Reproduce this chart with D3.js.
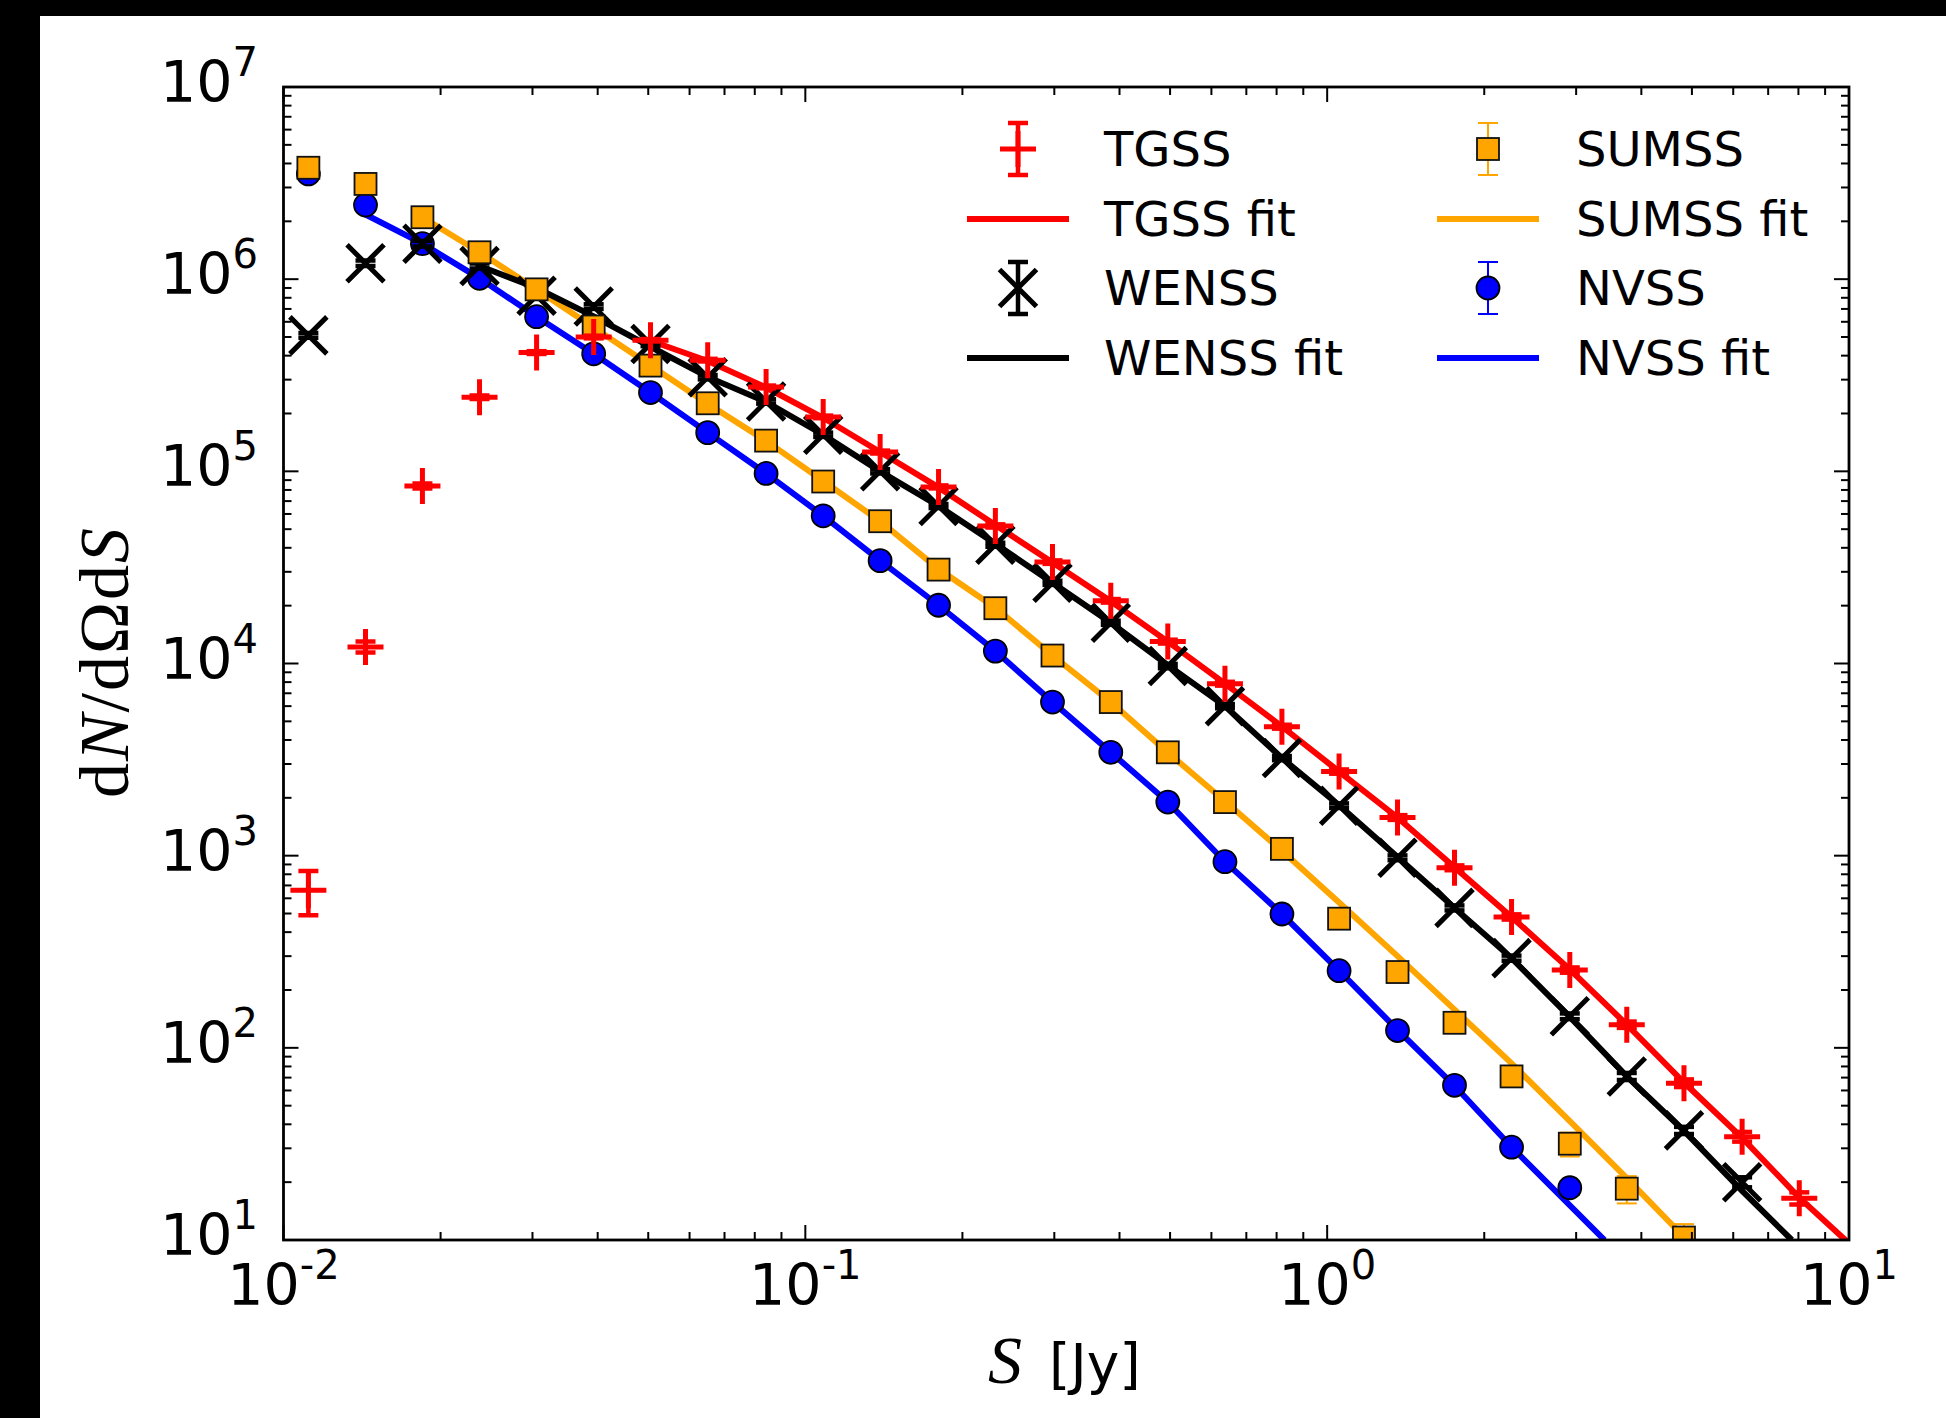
<!DOCTYPE html>
<html>
<head>
<meta charset="utf-8">
<script src="https://cdn.jsdelivr.net/npm/d3@7"></script>
<style>
  body { margin: 0; background: #fff; }
  text { font-family: "DejaVu Sans", sans-serif; }
</style>
</head>
<body>
<div id="chart"></div>
<script>
// bin centres, S [Jy]
const binS = [0.01116, 0.01436, 0.01846, 0.02375, 0.03055, 0.0393, 0.0505, 0.0650, 0.0841,
              0.1082, 0.1391, 0.180, 0.2313, 0.2976, 0.3849, 0.495, 0.637, 0.819, 1.054,
              1.364, 1.754, 2.256, 2.917, 3.751, 4.828, 6.24, 8.03];

// TGSS counts (27 bins)
const tgssVals = [661, 12200, 84000, 243000, 415000, 500000, 481000, 379000, 275000, 192000,
                  126000, 83000, 52000, 33700, 21200, 13000, 7850, 4690, 2740, 1580,
                  865, 480, 254, 132, 65.5, 34.5, 16.5];
const tgssErr = [172, 800, 2500, 5000, 7000, 8000, 7000, 6000, 4500, 3000,
                 2200, 1500, 1000, 700, 450, 300, 180, 110, 70, 45,
                 25, 15, 8, 5, 3, 2, 1.2];
const tgssFitS = [0.0505, 0.0650, 0.0841, 0.1082, 0.1391, 0.180, 0.2313, 0.2976, 0.3849, 0.495,
                  0.637, 0.819, 1.054, 1.364, 1.754, 2.256, 2.917, 3.751, 4.828, 6.24, 8.03, 10.0];
const tgssFit = [478000, 375000, 273000, 190000, 126000, 82500, 52500, 33500, 21100, 13000,
                 7850, 4700, 2740, 1580, 870, 480, 256, 132, 66, 34, 16.6, 9.6];

// WENSS counts (26 bins)
const wenssVals = [510000, 1210000, 1530000, 1170000, 820000, 720000, 460000, 309000, 231000, 155000,
                   100000, 66000, 41500, 26300, 16300, 9700, 6000, 3220, 1820, 975,
                   535, 293, 146, 71, 37.2, 20];
const wenssErr = [15000, 40000, 50000, 35000, 25000, 20000, 12000, 8000, 6000, 4000,
                  2500, 1600, 1000, 650, 400, 250, 150, 80, 50, 28,
                  16, 9, 5, 3, 1.6, 1.2];
const wenssFitS = [0.02375, 0.03055, 0.0393, 0.0505, 0.0650, 0.0841, 0.1082, 0.1391, 0.180, 0.2313,
                   0.2976, 0.3849, 0.495, 0.637, 0.819, 1.054, 1.364, 1.754, 2.256, 2.917,
                   3.751, 4.828, 6.24, 7.77];
const wenssFit = [1170000, 900000, 640000, 445000, 310000, 230000, 155000, 100000, 66000, 42000,
                  26300, 16300, 9800, 6000, 3220, 1830, 985, 535, 293, 145,
                  71, 37, 18, 10];

// SUMSS counts (25 bins)
const sumssVals = [3800000, 3130000, 2100000, 1380000, 885000, 567000, 355000, 226000, 144500, 88500,
                   55000, 30800, 19400, 11000, 6300, 3450, 1900, 1085, 470, 248,
                   135, 71, 31.7, 18.5, 10.3];
const sumssErr = [60000, 50000, 30000, 20000, 12000, 8000, 5000, 3000, 2000, 1200,
                  800, 450, 300, 170, 100, 60, 35, 22, 12, 8,
                  5, 4, 4.5, 3, 1.8];
const sumssFitS = [0.01846, 0.02375, 0.03055, 0.0393, 0.0505, 0.0650, 0.0841, 0.1082, 0.1391, 0.180,
                   0.2313, 0.2976, 0.3849, 0.495, 0.637, 0.819, 1.054, 1.364, 1.754, 2.256,
                   2.917, 3.751, 4.89];
const sumssFit = [2100000, 1380000, 885000, 560000, 355000, 225000, 144000, 89000, 55000, 31000,
                  19500, 11000, 6300, 3440, 1920, 1060, 570, 300, 158, 83,
                  41.6, 21, 10];

// NVSS counts (23 bins)
const nvssVals = [3530000, 2430000, 1530000, 1010000, 638000, 409000, 257000, 159000, 97500, 58700,
                  34300, 20100, 11600, 6300, 3450, 1900, 930, 497, 252, 123,
                  63.8, 30.4, 18.7];
const nvssErr = [50000, 40000, 25000, 15000, 9000, 6000, 4000, 2500, 1500, 900,
                 550, 320, 200, 110, 65, 40, 22, 13, 8, 4.5,
                 3, 2, 1.5];
const nvssFitS = [0.01436, 0.01846, 0.02375, 0.03055, 0.0393, 0.0505, 0.0650, 0.0841, 0.1082, 0.1391,
                  0.180, 0.2313, 0.2976, 0.3849, 0.495, 0.637, 0.819, 1.054, 1.364, 1.754,
                  2.256, 3.40];
const nvssFit = [2170000, 1530000, 1010000, 638000, 409000, 257000, 159000, 97500, 58700, 34300,
                 20100, 11600, 6300, 3450, 1900, 930, 497, 252, 124, 63.5,
                 30.5, 10];

const xTickExps = [-2, -1, 0, 1];
const yTickExps = [1, 2, 3, 4, 5, 6, 7];

const W = 1946, H = 1418;
const plot = {left: 283.5, right: 1849, top: 87, bottom: 1240};

const svg = d3.select("#chart").append("svg")
    .attr("width", W)
    .attr("height", H);

svg.append("rect").attr("width", W).attr("height", H).attr("fill", "#fff");
// black strips along the top and the left edge
svg.append("rect").attr("x", 0).attr("y", 0).attr("width", W).attr("height", 16).attr("fill", "#000");
svg.append("rect").attr("x", 0).attr("y", 0).attr("width", 40).attr("height", H).attr("fill", "#000");

const x = d3.scaleLog().domain([0.01, 10]).range([plot.left, plot.right]);
const y = d3.scaleLog().domain([10, 1e7]).range([plot.bottom, plot.top]);

svg.append("defs").append("clipPath").attr("id", "clip")
  .append("rect")
    .attr("x", plot.left).attr("y", plot.top)
    .attr("width", plot.right - plot.left)
    .attr("height", plot.bottom - plot.top);

const layer = svg.append("g").attr("clip-path", "url(#clip)");

// fit lines
const line = d3.line().x(d => x(d[0])).y(d => y(d[1]));
const fits = [
    {s: nvssFitS, v: nvssFit, color: "#0000ff"},
    {s: sumssFitS, v: sumssFit, color: "#ffa500"},
    {s: wenssFitS, v: wenssFit, color: "#000000"},
    {s: tgssFitS, v: tgssFit, color: "#ff0000"}
];
fits.forEach(f => {
    layer.append("path")
        .datum(f.s.map((s, i) => [s, f.v[i]]))
        .attr("d", line)
        .attr("fill", "none")
        .attr("stroke", f.color)
        .attr("stroke-width", 6);
});

// marker drawing helpers
function drawMarker(g, kind) {
    if (kind === "plus") {
        g.append("path").attr("d", "M-18,0H18M0,-18V18")
            .attr("stroke", "#ff0000").attr("stroke-width", 5).attr("fill", "none");
    } else if (kind === "x") {
        g.append("path").attr("d", "M-18.5,-18.5L18.5,18.5M-18.5,18.5L18.5,-18.5")
            .attr("stroke", "#000").attr("stroke-width", 5).attr("fill", "none");
    } else if (kind === "square") {
        g.append("rect").attr("x", -11).attr("y", -11).attr("width", 22).attr("height", 22)
            .attr("fill", "#ffa500").attr("stroke", "#111").attr("stroke-width", 1.8);
    } else {
        g.append("circle").attr("r", 11.5)
            .attr("fill", "#0000ff").attr("stroke", "#000").attr("stroke-width", 1.8);
    }
}

function drawErr(g, y0, y1, color, width, cap) {
    g.append("line").attr("x1", 0).attr("x2", 0).attr("y1", y0).attr("y2", y1)
        .attr("stroke", color).attr("stroke-width", width);
    [y0, y1].forEach(yy => {
        g.append("line").attr("x1", -cap).attr("x2", cap).attr("y1", yy).attr("y2", yy)
            .attr("stroke", color).attr("stroke-width", width);
    });
}

const sets = [
    {vals: nvssVals, err: nvssErr, kind: "circle", color: "#0000ff", ew: 2},
    {vals: wenssVals, err: wenssErr, kind: "x", color: "#000000", ew: 4.5},
    {vals: sumssVals, err: sumssErr, kind: "square", color: "#ffa500", ew: 2},
    {vals: tgssVals, err: tgssErr, kind: "plus", color: "#ff0000", ew: 4.5}
];
sets.forEach(set => {
    set.vals.forEach((v, i) => {
        const g = layer.append("g")
            .attr("transform", `translate(${x(binS[i])},${y(v)})`);
        const yc = y(v);
        drawErr(g, y(v - set.err[i]) - yc, y(v + set.err[i]) - yc, set.color, set.ew, 10);
        drawMarker(g, set.kind);
    });
});

// ticks (inward, all four sides)
const xt = x.ticks();
const yt = y.ticks();
const isMajor = v => Math.abs(Math.log10(v) - Math.round(Math.log10(v))) < 1e-9;
const tickG = svg.append("g").attr("stroke", "#000").attr("stroke-width", 2);
xt.forEach(v => {
    const len = isMajor(v) ? 15 : 8;
    const px = x(v);
    tickG.append("line").attr("x1", px).attr("x2", px).attr("y1", plot.bottom).attr("y2", plot.bottom - len);
    tickG.append("line").attr("x1", px).attr("x2", px).attr("y1", plot.top).attr("y2", plot.top + len);
});
yt.forEach(v => {
    const len = isMajor(v) ? 15 : 8;
    const py = y(v);
    tickG.append("line").attr("x1", plot.left).attr("x2", plot.left + len).attr("y1", py).attr("y2", py);
    tickG.append("line").attr("x1", plot.right).attr("x2", plot.right - len).attr("y1", py).attr("y2", py);
});

svg.append("rect")
    .attr("x", plot.left).attr("y", plot.top)
    .attr("width", plot.right - plot.left)
    .attr("height", plot.bottom - plot.top)
    .attr("fill", "none").attr("stroke", "#000").attr("stroke-width", 2.8);

// tick labels
function powLabel(sel, e) {
    sel.append("tspan").attr("font-size", 57).text("10");
    sel.append("tspan").attr("font-size", 40).attr("dy", -26).text(String(e));
}
xTickExps.forEach(e => {
    const t = svg.append("text")
        .attr("x", x(Math.pow(10, e)))
        .attr("y", plot.bottom + 65)
        .attr("text-anchor", "middle");
    powLabel(t, e);
});
yTickExps.forEach(e => {
    const t = svg.append("text")
        .attr("x", 258)
        .attr("y", y(Math.pow(10, e)) + 15)
        .attr("text-anchor", "end");
    powLabel(t, e);
});

// axis labels
const xl = svg.append("text").attr("y", 1383);
xl.append("tspan").attr("x", 988)
    .style("font-family", "'Liberation Serif', serif").style("font-style", "italic")
    .attr("font-size", 68).text("S");
xl.append("tspan").attr("x", 1049).attr("font-size", 55).text("[Jy]");

const yl = svg.append("text")
    .attr("transform", "translate(128,662) rotate(-90)")
    .attr("text-anchor", "middle")
    .style("font-family", "'Liberation Serif', serif")
    .attr("font-size", 70)
    .attr("letter-spacing", 2);
yl.append("tspan").text("d");
yl.append("tspan").style("font-style", "italic").text("N");
yl.append("tspan").text("/dΩd");
yl.append("tspan").style("font-style", "italic").text("S");

// legend
const legendRows = [149, 219, 288, 358];
const legendCols = [{hx: 1018, tx: 1104}, {hx: 1488, tx: 1576}];
const legendItems = [
    {label: "TGSS", kind: "plus", color: "#ff0000", ew: 4.5, col: 0, row: 0},
    {label: "TGSS fit", color: "#ff0000", col: 0, row: 1},
    {label: "WENSS", kind: "x", color: "#000000", ew: 4.5, col: 0, row: 2},
    {label: "WENSS fit", color: "#000000", col: 0, row: 3},
    {label: "SUMSS", kind: "square", color: "#ffa500", ew: 2, col: 1, row: 0},
    {label: "SUMSS fit", color: "#ffa500", col: 1, row: 1},
    {label: "NVSS", kind: "circle", color: "#0000ff", ew: 2, col: 1, row: 2},
    {label: "NVSS fit", color: "#0000ff", col: 1, row: 3}
];
const legend = svg.append("g");
legendItems.forEach(it => {
    const c = legendCols[it.col];
    const ry = legendRows[it.row];
    const g = legend.append("g").attr("transform", `translate(${c.hx},${ry})`);
    if (it.kind) {
        drawErr(g, -26, 26, it.color, it.ew, 10);
        drawMarker(g, it.kind);
    } else {
        g.append("line").attr("x1", -51).attr("x2", 51)
            .attr("stroke", it.color).attr("stroke-width", 6);
    }
    legend.append("text")
        .attr("x", c.tx).attr("y", ry + 17)
        .attr("font-size", 48)
        .text(it.label);
});
</script>
</body>
</html>
